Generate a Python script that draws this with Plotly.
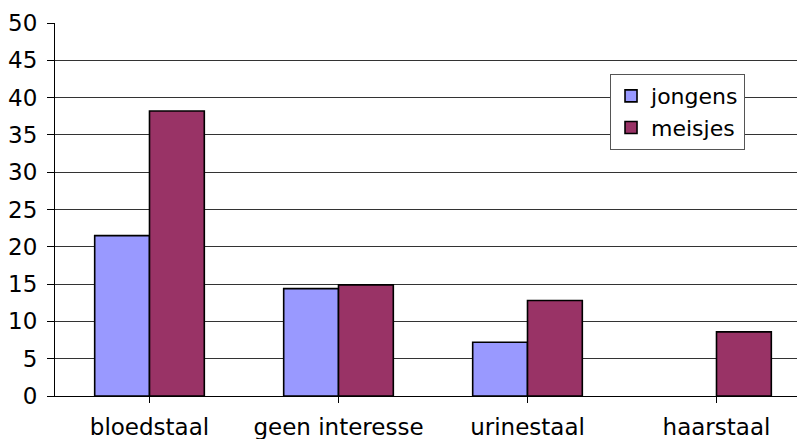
import plotly.graph_objects as go

# Sample types and percentages per group
categories = ["bloedstaal", "geen interesse", "urinestaal", "haarstaal"]
jongens = [21.5, 14.4, 7.2, None]
meisjes = [38.2, 14.9, 12.8, 8.6]
y_ticks = [0, 5, 10, 15, 20, 25, 30, 35, 40, 45, 50]

FONT = dict(family="DejaVu Sans, Verdana, sans-serif", size=23, color="#000000")
LEGEND_FONT = dict(family="DejaVu Sans, Verdana, sans-serif", size=22, color="#000000")
x_pos = list(range(len(categories)))

fig = go.Figure()
fig.add_trace(go.Bar(
    name="jongens", x=x_pos, y=jongens,
    marker=dict(color="#9999FF", line=dict(color="#000000", width=1.6)),
))
fig.add_trace(go.Bar(
    name="meisjes", x=x_pos, y=meisjes,
    marker=dict(color="#993366", line=dict(color="#000000", width=1.6)),
))

fig.update_layout(
    width=797, height=439,
    margin=dict(l=55, r=0, t=23, b=43),
    paper_bgcolor="white", plot_bgcolor="white",
    font=FONT,
    barmode="group", bargap=0.42, bargroupgap=0,
    showlegend=True,
    legend=dict(
        x=0.748, y=0.863, xanchor="left", yanchor="top",
        bgcolor="white", bordercolor="#555555", borderwidth=1,
        font=LEGEND_FONT, tracegroupgap=0, itemwidth=30,
    ),
)

fig.update_xaxes(
    tickmode="array", tickvals=x_pos, ticktext=categories,
    range=[-0.5, -0.5 + 742 / 189],
    showline=True, linecolor="#000000", linewidth=1,
    ticks="outside", ticklen=6, tickcolor="#000000", tickson="boundaries",
    showgrid=False, zeroline=False, tickfont=FONT, ticklabelstandoff=4,
    automargin=False,
)
fig.update_yaxes(
    range=[0, 50], tickvals=y_ticks,
    showline=True, linecolor="#000000", linewidth=1,
    ticks="outside", ticklen=7, tickcolor="#000000",
    showgrid=True, gridcolor="#333333", gridwidth=1,
    zeroline=False, tickfont=FONT, ticklabelstandoff=5,
    automargin=False,
)

fig.write_html("out.html")
